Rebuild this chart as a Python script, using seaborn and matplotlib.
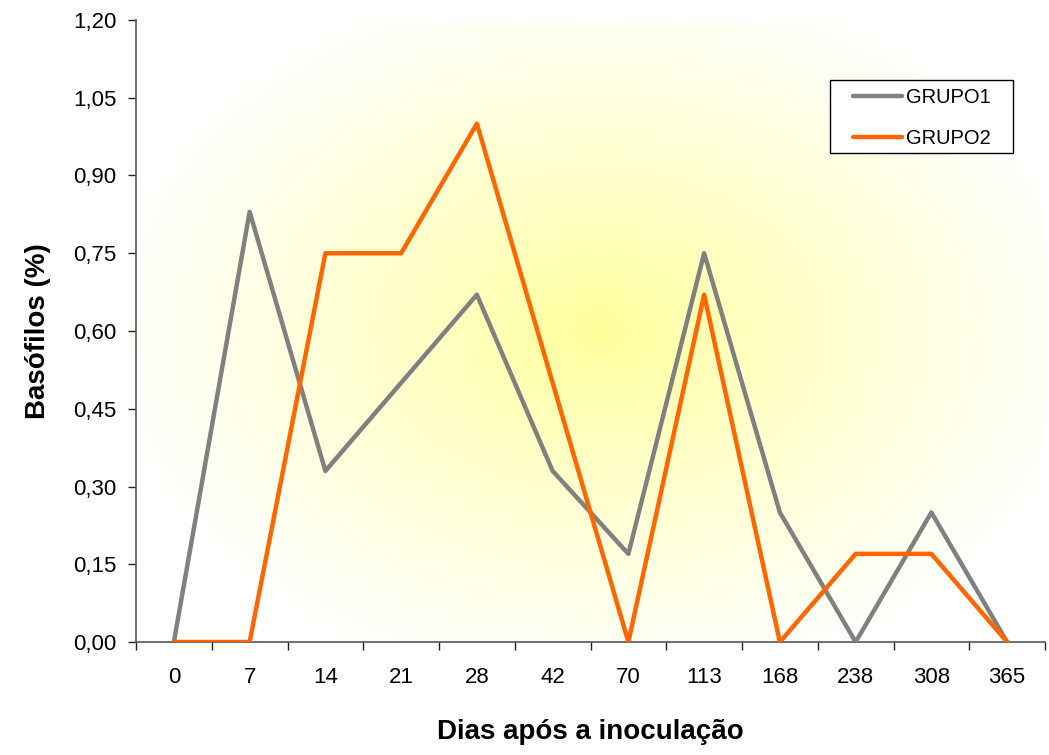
import numpy as np
import pandas as pd
import matplotlib
matplotlib.use("Agg")
import matplotlib.pyplot as plt
from matplotlib.ticker import FixedLocator, FuncFormatter
from matplotlib.colors import LinearSegmentedColormap
from matplotlib.patches import Rectangle
import seaborn as sns

dias = ["0", "7", "14", "21", "28", "42", "70", "113", "168", "238", "308", "365"]
grupo1 = [0.0, 0.83, 0.33, 0.50, 0.67, 0.33, 0.17, 0.75, 0.25, 0.0, 0.25, 0.0]
grupo2 = [0.0, 0.0, 0.75, 0.75, 1.00, 0.50, 0.0, 0.67, 0.0, 0.17, 0.17, 0.0]
series_names = ["GRUPO1", "GRUPO2"]
y_ticks = [0.0, 0.15, 0.30, 0.45, 0.60, 0.75, 0.90, 1.05, 1.20]

sns.set_theme(style="white")
plt.rcParams['font.family'] = ['Liberation Sans', 'DejaVu Sans']
plt.rcParams['text.color'] = 'black'

df = pd.DataFrame({
    "Dia": dias * 2,
    "Valor": grupo1 + grupo2,
    "Grupo": [series_names[0]] * len(dias) + [series_names[1]] * len(dias),
})

W, H = 1049, 755
fig = plt.figure(figsize=(W / 100, H / 100), dpi=100)
ax = fig.add_axes([136 / W, 1 - 642 / H, (1045 - 136) / W, (642 - 20) / H])

# radial yellow gradient background
nx, ny = 400, 300
xx, yy = np.meshgrid(np.linspace(0, 1, nx), np.linspace(0, 1, ny))
r = np.sqrt(((xx - 0.51) / 0.55) ** 2 + ((yy - 0.5) / 0.58) ** 2)
r = np.clip(r, 0, 1) ** 0.8
cmap = LinearSegmentedColormap.from_list("bg", ["#FFFF99", "#FFFFFF"])
ax.imshow(r, cmap=cmap, extent=[0, 1, 0, 1], transform=ax.transAxes,
          aspect="auto", origin="lower", zorder=0, interpolation="bilinear")

sns.lineplot(data=df, x="Dia", y="Valor", hue="Grupo", sort=False,
             palette={"GRUPO1": "#808080", "GRUPO2": "#FF6600"},
             linewidth=3.2, ax=ax, zorder=3)

ax.set_xlim(-0.5, len(dias) - 0.5)
ax.set_ylim(0, 1.20)
ax.set_yticks(y_ticks)
ax.yaxis.set_major_formatter(FuncFormatter(lambda v, p: f"{v:.2f}".replace(".", ",")))
ax.set_xticks(range(len(dias)))
ax.set_xticklabels(dias)
ax.xaxis.set_minor_locator(FixedLocator(np.arange(-0.5, len(dias), 1.0)))
ax.tick_params(axis="x", which="major", length=0, pad=18, labelsize=16, labelcolor="black")
ax.tick_params(axis="x", which="minor", length=6, width=1, color="#222222", direction="out", bottom=True)
ax.tick_params(axis="y", which="major", length=6, width=1, color="#222222", direction="out", left=True,
               labelsize=16, labelcolor="black", pad=8)

for s in ["top", "right"]:
    ax.spines[s].set_visible(False)
for s in ["left", "bottom"]:
    ax.spines[s].set_color("#555555")
    ax.spines[s].set_linewidth(1.2)

ax.set_xlabel("Dias após a inoculação", fontsize=20, fontweight="bold", labelpad=22, color="black")
ax.set_ylabel("Basófilos (%)", fontsize=20, fontweight="bold", labelpad=16, color="black")

# legend frame drawn as a rectangle (figure pixel box 830..1013 x 80..153)
ax.add_patch(Rectangle((830 / W, 1 - 153 / H), (1013 - 830) / W, (153 - 80) / H,
                       transform=fig.transFigure, facecolor="white",
                       edgecolor="black", linewidth=1.0, zorder=5, clip_on=False))
leg = ax.legend(loc="upper left", bbox_to_anchor=(853 / W, 1 - 88 / H),
                bbox_transform=fig.transFigure,
                frameon=False, fontsize=14.5, handlelength=2.45,
                handletextpad=0.2, borderpad=0, labelspacing=1.1, borderaxespad=0)
leg.set_zorder(7)
for line in leg.get_lines():
    line.set_linewidth(3.2)
for t in leg.get_texts():
    t.set_color("black")

fig.savefig("out.png", dpi=100)
